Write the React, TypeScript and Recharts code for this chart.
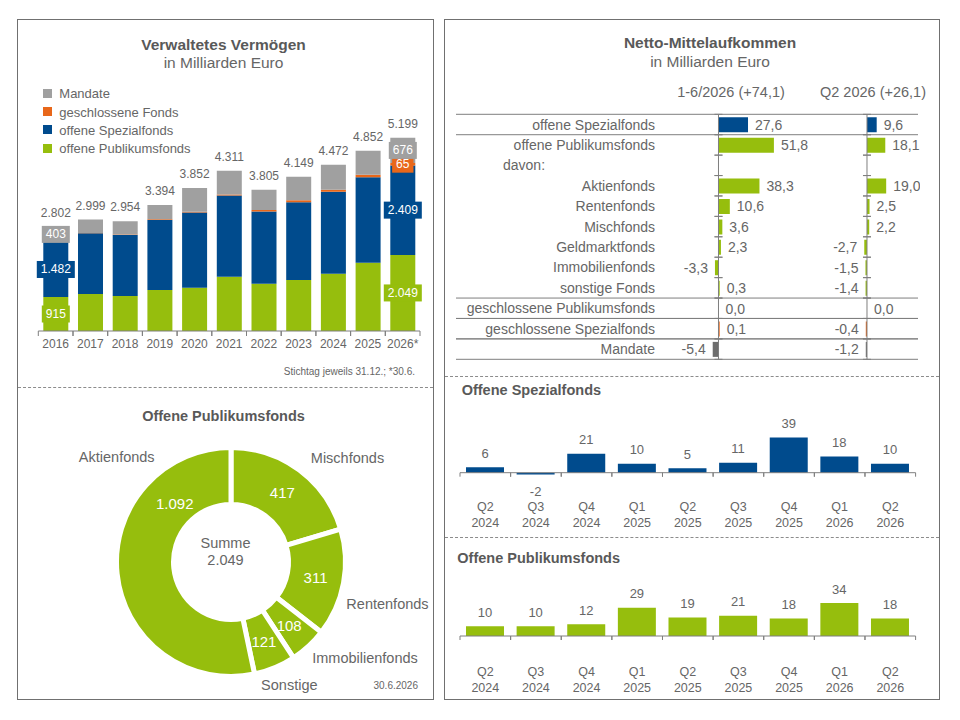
import React from "react";
import {
  BarChart,
  Bar,
  XAxis,
  YAxis,
  LabelList,
  Cell,
  ReferenceLine,
  ReferenceArea,
  PieChart,
  Pie,
} from "recharts";

const FONT = '"Liberation Sans", Arial, Helvetica, sans-serif';
const TEXT = "#666666";
const TITLE = "#595959";
const BLUE = "#004b8d";
const GREEN = "#96be0d";
const GRAY = "#a0a0a0";
const ORANGE = "#e8671a";
const DARK = "#6e6e6e";
const RULE = "#7f7f7f";
const FRAME = "#707070";

// Verwaltetes Vermögen, Mrd. Euro (Stichtag 31.12., 2026: 30.6.)
const YEARS = ["2016", "2017", "2018", "2019", "2020", "2021", "2022", "2023", "2024", "2025", "2026*"];
const OFFENE_PUBLIKUMSFONDS = [915, 997, 943, 1105, 1167, 1463, 1274, 1374, 1544, 1840, 2049];
const OFFENE_SPEZIALFONDS = [1482, 1635, 1643, 1886, 2020, 2182, 1940, 2093, 2201, 2301, 2409];
const GESCHLOSSENE_FONDS = [2, 6, 10, 14, 22, 28, 45, 52, 60, 64, 65];
const MANDATE = [403, 361, 358, 389, 643, 638, 546, 630, 667, 647, 676];
const GESAMT = [2802, 2999, 2954, 3394, 3852, 4311, 3805, 4149, 4472, 4852, 5199];

// Netto-Mittelaufkommen, Mrd. Euro
const FLOW_HEADERS = ["1-6/2026 (+74,1)", "Q2 2026 (+26,1)"];
const FLOW_LABELS = [
  "offene Spezialfonds",
  "offene Publikumsfonds",
  "davon:",
  "Aktienfonds",
  "Rentenfonds",
  "Mischfonds",
  "Geldmarktfonds",
  "Immobilienfonds",
  "sonstige Fonds",
  "geschlossene Publikumsfonds",
  "geschlossene Spezialfonds",
  "Mandate",
];
const FLOW_H1 = [27.6, 51.8, null, 38.3, 10.6, 3.6, 2.3, -3.3, 0.3, 0.0, 0.1, -5.4];
const FLOW_Q2 = [9.6, 18.1, null, 19.0, 2.5, 2.2, -2.7, -1.5, -1.4, 0.0, -0.4, -1.2];
const FLOW_KIND = [
  "spezial", "publikum", "heading", "publikum", "publikum", "publikum",
  "publikum", "publikum", "publikum", "geschlossen", "geschlossen", "mandate",
];
const FLOW_RULED = ["offene Spezialfonds", "geschlossene Publikumsfonds", "geschlossene Spezialfonds", "Mandate"];

// Offene Publikumsfonds nach Fondsart, 30.6.2026
const SEGMENT_NAMES = ["Mischfonds", "Rentenfonds", "Immobilienfonds", "Sonstige", "Aktienfonds"];
const SEGMENT_VALUES = [417, 311, 108, 121, 1092];

// Quartalsweises Netto-Mittelaufkommen
const QUARTERS = ["Q2 2024", "Q3 2024", "Q4 2024", "Q1 2025", "Q2 2025", "Q3 2025", "Q4 2025", "Q1 2026", "Q2 2026"];
const SPEZIAL_Q = [6, -2, 21, 10, 5, 11, 39, 18, 10];
const PUBLIKUM_Q = [10, 10, 12, 29, 19, 21, 18, 34, 18];

const KIND_COLOR: Record<string, string> = {
  spezial: BLUE,
  publikum: GREEN,
  heading: "none",
  geschlossen: ORANGE,
  mandate: DARK,
};

// Excel-Beschriftungen im Ring (Uhrzeigerwinkel, Radius in px)
const NAME_LABEL_AT: Record<string, { angle: number; radius: number }> = {
  Aktienfonds: { angle: 312.5, radius: 155 },
  Mischfonds: { angle: 48.3, radius: 156 },
  Rentenfonds: { angle: 105, radius: 162 },
  Immobilienfonds: { angle: 125.7, radius: 165 },
  Sonstige: { angle: 154.6, radius: 136 },
};
const VALUE_LABEL_AT: Record<string, { angle: number; radius: number }> = {
  Aktienfonds: { angle: 316, radius: 81 },
};

const STACK = [
  { key: "publikum", name: "offene Publikumsfonds", values: OFFENE_PUBLIKUMSFONDS, color: GREEN },
  { key: "spezial", name: "offene Spezialfonds", values: OFFENE_SPEZIALFONDS, color: BLUE },
  { key: "geschlossen", name: "geschlossene Fonds", values: GESCHLOSSENE_FONDS, color: ORANGE },
  { key: "mandate", name: "Mandate", values: MANDATE, color: GRAY },
];

const assetRows = YEARS.map((year, i) => {
  const row: Record<string, any> = { year, total: GESAMT[i] };
  STACK.forEach((s) => (row[s.key] = s.values[i]));
  return row;
});

const flowRows = FLOW_LABELS.map((name, i) => ({ name, h1: FLOW_H1[i], q2: FLOW_Q2[i], kind: FLOW_KIND[i] }));
const pieRows = SEGMENT_NAMES.map((name, i) => ({ name, value: SEGMENT_VALUES[i] }));
const pieSum = SEGMENT_VALUES.reduce((a, b) => a + b, 0);

const fmtInt = (v: number) => String(Math.round(v)).replace(/\B(?=(\d{3})+(?!\d))/g, ".");
const fmtDec = (v: number) => v.toFixed(1).replace(".", ",");
const textWidth = (s: string, size: number) =>
  [...s].reduce((w, c) => w + (c === "." || c === "," ? 0.278 : 0.556) * size, 0);

function Txt({ x, y, anchor = "middle", size, bold, color = TEXT, children }: any) {
  const tx = anchor === "middle" ? "-50%" : anchor === "end" ? "-100%" : "0";
  return (
    <div
      style={{
        position: "absolute",
        left: x,
        top: y,
        transform: `translate(${tx}, -50%)`,
        fontSize: size,
        fontWeight: bold ? 700 : 400,
        color,
        whiteSpace: "nowrap",
        lineHeight: 1,
      }}
    >
      {children}
    </div>
  );
}

// kleine Striche an den Kategoriegrenzen (nach unten)
const edgeTicks = (length: number) => (p: any) => (
  <g>
    <line x1={p.x} x2={p.x} y1={p.y} y2={p.y + length} stroke={RULE} />
    <line x1={p.x + p.width} x2={p.x + p.width} y1={p.y} y2={p.y + length} stroke={RULE} />
  </g>
);

function boxedLabel(color: string) {
  return (p: any) => {
    const { x, y, width, height, value, index } = p;
    const last = YEARS.length - 1;
    if ((index !== 0 && index !== last) || value < 50) return null;
    const cx = x + width / 2;
    const cy = y + height / 2;
    const text = fmtInt(value);
    const w = textWidth(text, 12) + 8;
    return (
      <g>
        <rect x={cx - w / 2} y={cy - 8.5} width={w} height={17} fill={color} />
        <text x={cx} y={cy} textAnchor="middle" dominantBaseline="central" fill="#fff" fontSize={12}>
          {text}
        </text>
      </g>
    );
  };
}

const totalLabel = (p: any) => (
  <text x={p.x + p.width / 2} y={p.y - 14} textAnchor="middle" dominantBaseline="central" fill={TEXT} fontSize={12}>
    {fmtInt(p.value)}
  </text>
);

function AssetChart() {
  return (
    <BarChart width={417} height={260} data={assetRows} margin={{ top: 8.1, right: 14, bottom: 0, left: 21.3 }}>
      <XAxis
        dataKey="year"
        interval={0}
        tickLine={false}
        axisLine={{ stroke: RULE }}
        height={29}
        tick={{ fill: TEXT, fontSize: 12 }}
      />
      <YAxis hide domain={[0, 6000]} allowDataOverflow />
      {STACK.map((s, si) => (
        <Bar key={s.key} dataKey={s.key} name={s.name} stackId="aum" fill={s.color} barSize={25} isAnimationActive={false}>
          <LabelList dataKey={s.key} content={boxedLabel(s.color)} />
          {si === STACK.length - 1 && <LabelList dataKey="total" content={totalLabel} />}
        </Bar>
      ))}
      {YEARS.map((y) => (
        <ReferenceArea key={y} x1={y} x2={y} y1={0} y2={0} ifOverflow="visible" shape={edgeTicks(5)} />
      ))}
    </BarChart>
  );
}

const FlowTick = (p: any) => {
  const heading = p.payload.value === "davon:";
  return (
    <text
      x={heading ? p.x - 152 : p.x}
      y={p.y}
      textAnchor={heading ? "start" : "end"}
      dominantBaseline="central"
      fill={TEXT}
      fontSize={14}
    >
      {p.payload.value}
    </text>
  );
};

const flowLabel = (p: any) => {
  const { x, y, width, height, value } = p;
  if (value == null) return null;
  const a = Number(x);
  const b = Number(x) + Number(width);
  const pos = value >= 0;
  const end = pos ? Math.max(a, b) : Math.min(a, b);
  const top = Math.min(y, y + height);
  return (
    <text
      x={pos ? end + 7 : end - 7}
      y={top + Math.abs(height) / 2}
      textAnchor={pos ? "start" : "end"}
      dominantBaseline="central"
      fill={TEXT}
      fontSize={14}
    >
      {fmtDec(value)}
    </text>
  );
};

const rowTicks = (p: any) => {
  const cx = p.x + p.width / 2;
  return (
    <g>
      <line x1={cx - 4} x2={cx + 4} y1={p.y} y2={p.y} stroke={RULE} />
      <line x1={cx - 4} x2={cx + 4} y1={p.y + p.height} y2={p.y + p.height} stroke={RULE} />
    </g>
  );
};

const rowRule = (p: any) => (
  <g>
    <line x1={p.x - 209} x2={p.x + p.width} y1={p.y} y2={p.y} stroke={RULE} />
    <line x1={p.x - 209} x2={p.x + p.width} y1={p.y + p.height} y2={p.y + p.height} stroke={RULE} />
  </g>
);

// sehr kleine Werte sichtbar halten, Nullwerte nur als Haarstrich (damit "0,0" beschriftet wird)
const thinBar = (v: number | null) => (v == null ? 0 : v === 0 ? 0.01 : 1.2);

function FlowChart() {
  const cols = [
    { id: "a", key: "h1", domain: [-50, 186.5] },
    { id: "b", key: "q2", domain: [-200, 50.5] },
  ];
  return (
    <BarChart layout="vertical" width={470} height={254} data={flowRows} margin={{ top: 4.3, right: 2, bottom: 4.7, left: 0 }}>
      {cols.map((c) => (
        <XAxis key={c.id} xAxisId={c.id} type="number" hide domain={c.domain} allowDataOverflow />
      ))}
      <YAxis
        yAxisId="a"
        type="category"
        dataKey="name"
        width={215}
        interval={0}
        axisLine={false}
        tickLine={false}
        tickMargin={4}
        tick={FlowTick}
      />
      <YAxis yAxisId="b" type="category" dataKey="name" hide />
      {FLOW_RULED.map((name) => (
        <ReferenceArea key={name} xAxisId="a" yAxisId="a" y1={name} y2={name} ifOverflow="visible" shape={rowRule} />
      ))}
      {cols.map((c) => (
        <ReferenceLine key={c.id} xAxisId={c.id} yAxisId={c.id} x={0} stroke={RULE} />
      ))}
      {cols.map((c) =>
        FLOW_LABELS.map((name) => (
          <ReferenceArea
            key={c.id + name}
            xAxisId={c.id}
            yAxisId={c.id}
            y1={name}
            y2={name}
            x1={-0.5}
            x2={0.5}
            ifOverflow="visible"
            shape={rowTicks}
          />
        ))
      )}
      {cols.map((c) => (
        <Bar
          key={c.key}
          xAxisId={c.id}
          yAxisId={c.id}
          dataKey={c.key}
          barSize={15}
          minPointSize={thinBar as any}
          isAnimationActive={false}
        >
          {flowRows.map((r) => (
            <Cell key={r.name} fill={KIND_COLOR[r.kind]} />
          ))}
          <LabelList dataKey={c.key} content={flowLabel} />
        </Bar>
      ))}
    </BarChart>
  );
}

const RAD = Math.PI / 180;
const polar = (cx: number, cy: number, clock: number, r: number) => ({
  x: cx + r * Math.sin(clock * RAD),
  y: cy - r * Math.cos(clock * RAD),
});

const donutLabel = (p: any) => {
  const { cx, cy, midAngle, innerRadius, outerRadius, name, value } = p;
  const inner = VALUE_LABEL_AT[name] ?? { angle: 90 - midAngle, radius: (innerRadius + outerRadius) / 2 };
  const outer = NAME_LABEL_AT[name];
  const v = polar(cx, cy, inner.angle, inner.radius);
  const n = polar(cx, cy, outer.angle, outer.radius);
  return (
    <g>
      <text x={v.x} y={v.y} textAnchor="middle" dominantBaseline="central" fill="#ffffff" fontSize={15}>
        {fmtInt(value)}
      </text>
      <text x={n.x} y={n.y} textAnchor="middle" dominantBaseline="central" fill={TEXT} fontSize={14.5}>
        {name}
      </text>
    </g>
  );
};

function FundsDonut() {
  return (
    <PieChart width={417} height={310}>
      <Pie
        data={pieRows}
        dataKey="value"
        nameKey="name"
        cx={209}
        cy={167}
        startAngle={90}
        endAngle={-270}
        innerRadius={57.5}
        outerRadius={114.5}
        fill={GREEN}
        stroke="#ffffff"
        strokeWidth={5}
        labelLine={false}
        label={donutLabel}
        isAnimationActive={false}
      />
    </PieChart>
  );
}

const QuarterTick = (line1: number) => (p: any) => {
  const [q, yr] = String(p.payload.value).split(" ");
  return (
    <g>
      <text x={p.x} y={p.y + line1} textAnchor="middle" dominantBaseline="central" fill={TEXT} fontSize={12.5}>
        {q}
      </text>
      <text x={p.x} y={p.y + line1 + 15.8} textAnchor="middle" dominantBaseline="central" fill={TEXT} fontSize={12.5}>
        {yr}
      </text>
    </g>
  );
};

const quarterLabel = (p: any) => {
  const { x, y, width, height, value } = p;
  const top = Math.min(y, y + height);
  const bottom = Math.max(y, y + height);
  return (
    <text
      x={x + width / 2}
      y={value >= 0 ? top - 14 : bottom + 17}
      textAnchor="middle"
      dominantBaseline="central"
      fill={TEXT}
      fontSize={13}
    >
      {String(value)}
    </text>
  );
};

function QuarterChart({ values, color, domain, marginTop, axisHeight, line1 }: any) {
  const rows = QUARTERS.map((q, i) => ({ q, v: values[i] }));
  return (
    <BarChart width={496} height={145} data={rows} margin={{ top: marginTop, right: 24.4, bottom: 0, left: 16 }}>
      <XAxis
        dataKey="q"
        interval={0}
        axisLine={false}
        tickLine={false}
        tickSize={0}
        tickMargin={0}
        height={axisHeight}
        tick={QuarterTick(line1)}
      />
      <YAxis hide domain={domain} allowDataOverflow />
      <ReferenceLine y={0} stroke={RULE} />
      {QUARTERS.map((q) => (
        <ReferenceArea key={q} x1={q} x2={q} y1={0} y2={0} ifOverflow="visible" shape={edgeTicks(4)} />
      ))}
      <Bar dataKey="v" fill={color} barSize={38} isAnimationActive={false}>
        <LabelList dataKey="v" content={quarterLabel} />
      </Bar>
    </BarChart>
  );
}

const at = (left: number, top: number): React.CSSProperties => ({ position: "absolute", left, top });

export default function App() {
  const legend = [...STACK].reverse();
  return (
    <div
      style={{
        position: "absolute",
        left: 0,
        top: 0,
        width: 960,
        height: 720,
        background: "#ffffff",
        fontFamily: FONT,
        color: TEXT,
      }}
    >
      {/* Rahmen */}
      <div style={{ ...at(17, 19), width: 417, height: 681, border: `1px solid ${FRAME}`, boxSizing: "border-box" }} />
      <div style={{ ...at(444, 19), width: 496, height: 681, border: `1px solid ${FRAME}`, boxSizing: "border-box" }} />
      <div style={{ ...at(18, 387), width: 415, borderTop: "1px dashed #8c8c8c" }} />
      <div style={{ ...at(445, 376), width: 494, borderTop: "1px dashed #8c8c8c" }} />
      <div style={{ ...at(445, 537), width: 494, borderTop: "1px dashed #8c8c8c" }} />

      {/* Verwaltetes Vermögen */}
      <Txt x={223.5} y={45} size={15.5} bold color={TITLE}>Verwaltetes Vermögen</Txt>
      <Txt x={223.5} y={63} size={15.5}>in Milliarden Euro</Txt>
      {legend.map((s, i) => (
        <div key={s.key}>
          <div style={{ ...at(42.7, 93.3 + i * 18.3 - 4.5), width: 9, height: 9, background: s.color }} />
          <Txt x={59.3} y={93.3 + i * 18.3} anchor="start" size={13}>{s.name}</Txt>
        </div>
      ))}
      <div style={at(17, 100)}>
        <AssetChart />
      </div>
      <Txt x={415} y={372.3} anchor="end" size={10}>Stichtag jeweils 31.12.; *30.6.</Txt>

      {/* Offene Publikumsfonds (Ring) */}
      <Txt x={223.5} y={416} size={14.5} bold color={TITLE}>Offene Publikumsfonds</Txt>
      <div style={at(17, 390)}>
        <FundsDonut />
      </div>
      <Txt x={225.5} y={542.7} size={14.5}>Summe</Txt>
      <Txt x={225.5} y={560} size={14.5}>{fmtInt(pieSum)}</Txt>
      <Txt x={418} y={686} anchor="end" size={10}>30.6.2026</Txt>

      {/* Netto-Mittelaufkommen */}
      <Txt x={710} y={42.7} size={15.5} bold color={TITLE}>Netto-Mittelaufkommen</Txt>
      <Txt x={710} y={61.7} size={15.5}>in Milliarden Euro</Txt>
      <Txt x={731} y={91.7} size={14.5}>{FLOW_HEADERS[0]}</Txt>
      <Txt x={873} y={91.7} size={14.5}>{FLOW_HEADERS[1]}</Txt>
      <div style={at(450, 110)}>
        <FlowChart />
      </div>

      {/* Quartale */}
      <Txt x={461.7} y={390} anchor="start" size={14.5} bold color={TITLE}>Offene Spezialfonds</Txt>
      <div style={at(444, 395)}>
        <QuarterChart values={SPEZIAL_Q} color={BLUE} domain={[-10, 45]} marginTop={37.2} axisHeight={58.3} line1={25} />
      </div>
      <Txt x={457.3} y={558.3} anchor="start" size={14.5} bold color={TITLE}>Offene Publikumsfonds</Txt>
      <div style={at(444, 555)}>
        <QuarterChart values={PUBLIKUM_Q} color={GREEN} domain={[-10, 42]} marginTop={40.26} axisHeight={54.3} line1={26} />
      </div>
    </div>
  );
}
